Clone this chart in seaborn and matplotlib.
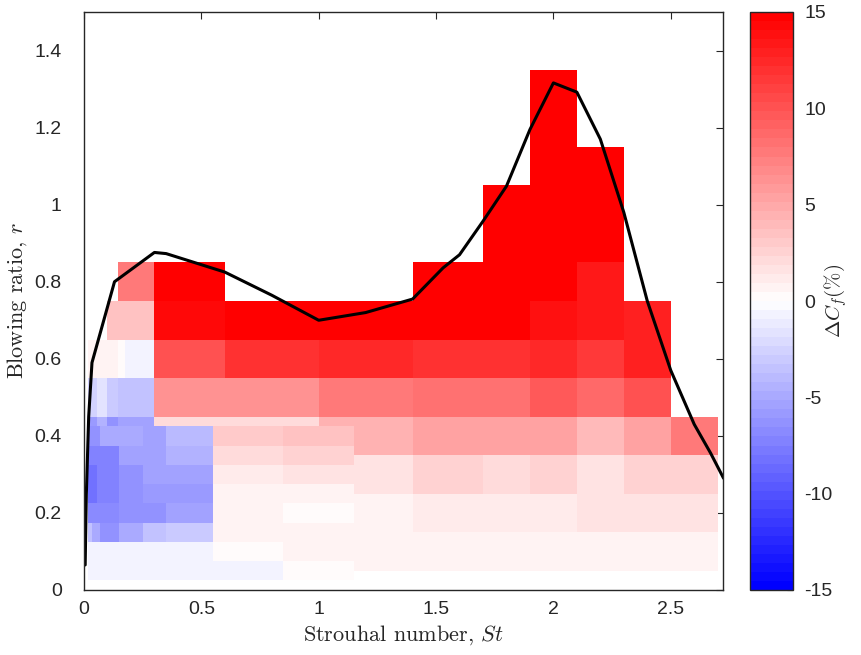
import numpy as np
import matplotlib
matplotlib.use("Agg")
import matplotlib.pyplot as plt
import seaborn as sns
from matplotlib.colors import LinearSegmentedColormap, Normalize

nan = np.nan

# ---------------- data: coarse grid (blowing ratio step 0.1) ----------------
st_edges_a = [0.015, 0.055, 0.1, 0.143, 0.176, 0.3, 0.6, 1.0, 1.4, 1.7, 1.9, 2.1, 2.3, 2.5, 2.7]
r_edges_a = [0.05, 0.15, 0.25, 0.35, 0.45, 0.55, 0.65, 0.75, 0.85, 0.95, 1.05, 1.15, 1.25, 1.35]
dcf_a_r01 = [nan, nan, nan, nan, nan, nan, nan, 0.6, 0.6, 0.6, 0.6, 0.6, 0.6, 0.6]
dcf_a_r02 = [nan, nan, nan, nan, nan, nan, nan, 0.6, 1.0, 1.0, 1.0, 1.5, 1.5, 1.5]
dcf_a_r03 = [nan, nan, nan, nan, nan, nan, nan, 1.5, 2.7, 2.1, 2.7, 1.8, 2.5, 2.5]
dcf_a_r04 = [-6.0, -4.6, -6.1, -5.6, -5.6, 2.0, 2.3, 4.6, 5.6, 5.3, 5.6, 4.2, 5.6, 7.9]
dcf_a_r05 = [-2.8, -1.8, -3.2, -3.7, -3.4, 6.5, 6.5, 7.5, 8.4, 8.4, 9.4, 8.8, 10.3, nan]
dcf_a_r06 = [0.5, 0.5, 0.5, 0.0, -0.6, 10.3, 11.9, 12.2, 11.9, 11.9, 12.2, 11.7, 13.1, nan]
dcf_a_r07 = [nan, nan, 3.7, 3.7, 3.7, 14.4, 14.7, 15.0, 15.0, 15.0, 13.8, 13.5, 12.8, nan]
dcf_a_r08 = [nan, nan, nan, 7.5, 7.5, 15.0, nan, nan, 15.0, 15.0, 15.0, 13.5, nan, nan]
dcf_a_r09 = [nan, nan, nan, nan, nan, nan, nan, nan, nan, 15.0, 15.0, 15.0, nan, nan]
dcf_a_r10 = [nan, nan, nan, nan, nan, nan, nan, nan, nan, 15.0, 15.0, 15.0, nan, nan]
dcf_a_r11 = [nan, nan, nan, nan, nan, nan, nan, nan, nan, nan, 15.0, 15.0, nan, nan]
dcf_a_r12 = [nan, nan, nan, nan, nan, nan, nan, nan, nan, nan, 15.0, nan, nan, nan]
dcf_a_r13 = [nan, nan, nan, nan, nan, nan, nan, nan, nan, nan, 15.0, nan, nan, nan]

# ---------------- data: fine grid (blowing ratio step 0.05), low St ----------------
r_rows_b = [0.05, 0.10, 0.15, 0.20, 0.25, 0.30, 0.35, 0.40]
r_half_b = 0.025
st_edges_b_r005 = [0.015, 0.85, 1.152]
dcf_b_r005 = [-0.6, 0.0]
st_edges_b_r010 = [0.015, 0.55, 0.85, 1.152]
dcf_b_r010 = [-0.6, 0.0, 0.7]
st_edges_b_r015 = [0.015, 0.033, 0.07, 0.148, 0.25, 0.35, 0.55, 0.85, 1.152]
dcf_b_r015 = [-3.7, -5.1, -6.1, -5.1, -3.7, -3.0, 0.6, 0.8]
st_edges_b_r020 = [0.015, 0.148, 0.25, 0.35, 0.55, 0.85, 1.152]
dcf_b_r020 = [-7.0, -6.5, -6.1, -5.6, 0.5, 0.0]
st_edges_b_r025 = [0.015, 0.057, 0.148, 0.25, 0.55, 0.85, 1.152]
dcf_b_r025 = [-8.0, -7.5, -6.3, -5.8, 0.6, 0.5]
st_edges_b_r030 = [0.015, 0.057, 0.148, 0.25, 0.55, 0.85, 1.152]
dcf_b_r030 = [-8.0, -7.5, -6.5, -5.6, 1.4, 1.5]
st_edges_b_r035 = [0.015, 0.148, 0.35, 0.55, 0.85, 1.152]
dcf_b_r035 = [-7.1, -5.6, -4.4, 2.3, 2.6]
st_edges_b_r040 = [0.015, 0.07, 0.25, 0.35, 0.55, 0.85, 1.152]
dcf_b_r040 = [-6.3, -5.1, -5.6, -4.2, 3.2, 3.5]

# ---------------- data: boundary curve ----------------
curve_st = [0.005, 0.01, 0.02, 0.034, 0.13, 0.30, 0.35, 0.60, 0.80, 1.00, 1.20, 1.40,
            1.53, 1.60, 1.70, 1.80, 1.90, 2.00, 2.10, 2.20, 2.30, 2.40, 2.50, 2.60, 2.67, 2.725]
curve_r = [0.065, 0.25, 0.45, 0.59, 0.80, 0.876, 0.873, 0.825, 0.765, 0.70, 0.72, 0.755,
           0.836, 0.87, 0.957, 1.048, 1.195, 1.316, 1.292, 1.17, 0.98, 0.75, 0.57, 0.43, 0.355, 0.29]

x_ticks = [0, 0.5, 1, 1.5, 2, 2.5]
x_ticklabels = ["0", "0.5", "1", "1.5", "2", "2.5"]
y_ticks = [0, 0.2, 0.4, 0.6, 0.8, 1.0, 1.2, 1.4]
y_ticklabels = ["0", "0.2", "0.4", "0.6", "0.8", "1", "1.2", "1.4"]
cb_ticks = [-15, -10, -5, 0, 5, 10, 15]
cb_ticklabels = ["-15", "-10", "-5", "0", "5", "10", "15"]

# ---------------- style ----------------
sns.set_style("white")
plt.rcParams["font.family"] = ["Liberation Sans", "DejaVu Sans"]
plt.rcParams["mathtext.fontset"] = "cm"

cmap = LinearSegmentedColormap.from_list("bwr_m", ["#0000ff", "#ffffff", "#ff0000"], N=64)
norm = Normalize(vmin=-15, vmax=15)

fig = plt.figure(figsize=(8.62, 6.55), dpi=100)
ax = fig.add_axes([84 / 862, 1 - 590 / 655, (723 - 84) / 862, (590 - 12) / 655])
cax = fig.add_axes([750 / 862, 1 - 590 / 655, (793 - 750) / 862, (590 - 12) / 655])

grid_a = np.array([dcf_a_r01, dcf_a_r02, dcf_a_r03, dcf_a_r04, dcf_a_r05, dcf_a_r06, dcf_a_r07,
                   dcf_a_r08, dcf_a_r09, dcf_a_r10, dcf_a_r11, dcf_a_r12, dcf_a_r13])
mesh = ax.pcolormesh(st_edges_a, r_edges_a, np.ma.masked_invalid(grid_a), cmap=cmap, norm=norm,
                     edgecolors="none", antialiased=False)

rows_b = [(st_edges_b_r005, dcf_b_r005), (st_edges_b_r010, dcf_b_r010), (st_edges_b_r015, dcf_b_r015),
          (st_edges_b_r020, dcf_b_r020), (st_edges_b_r025, dcf_b_r025), (st_edges_b_r030, dcf_b_r030),
          (st_edges_b_r035, dcf_b_r035), (st_edges_b_r040, dcf_b_r040)]
for r_c, (edges, vals) in zip(r_rows_b, rows_b):
    ax.pcolormesh(edges, [r_c - r_half_b, r_c + r_half_b], np.array([vals]), cmap=cmap, norm=norm,
                  edgecolors="none", antialiased=False)

sns.lineplot(x=curve_st, y=curve_r, sort=False, estimator=None, color="black", linewidth=2.2, ax=ax)

ax.set_xlim(0, 2.7226)
ax.set_ylim(0, 1.5)
ax.set_xticks(x_ticks)
ax.set_xticklabels(x_ticklabels)
ax.set_yticks(y_ticks)
ax.set_yticklabels(y_ticklabels)
ax.tick_params(direction="in", length=5, width=0.8, color="#262626", labelsize=14,
               labelcolor="#262626", top=True, right=True, pad=8)
ax.tick_params(axis="y", pad=16)
for s in ax.spines.values():
    s.set_visible(True)
    s.set_color("#262626")
    s.set_linewidth(1.0)
ax.set_xlabel("Strouhal number, $St$", fontfamily="cmr10", fontsize=16, color="#262626", labelpad=4)
ax.set_ylabel("Blowing ratio, $r$", fontfamily="cmr10", fontsize=16, color="#262626", labelpad=4)

cb = fig.colorbar(mesh, cax=cax)
cb.set_ticks(cb_ticks)
cb.set_ticklabels(cb_ticklabels)
cb.ax.tick_params(direction="in", length=4, width=0.8, color="#262626", labelsize=14,
                  labelcolor="#262626", pad=8)
cb.outline.set_edgecolor("#262626")
cb.outline.set_linewidth(1.0)
cb.set_label(r"$\Delta C_f(\%)$", fontsize=15, color="#262626")
cb.ax.yaxis.set_label_coords(1.68, 0.5)

fig.savefig("out.png", dpi=100)
